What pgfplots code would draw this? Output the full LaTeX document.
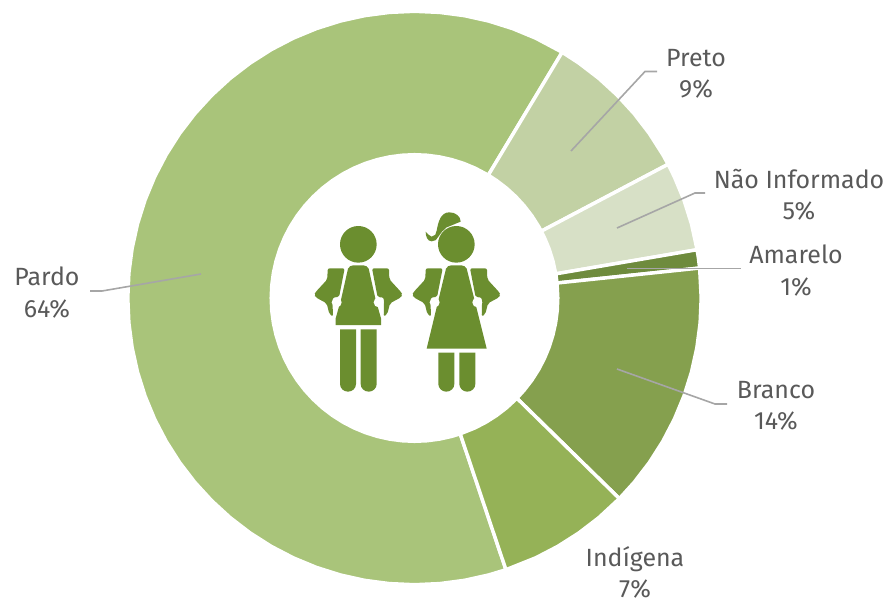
\documentclass[border=0pt]{standalone}
\usepackage{pgfplots}
\pgfplotsset{compat=1.18}
\usepackage{fontspec}
\setmainfont{Fira Sans}
\definecolor{cPardo}{HTML}{A9C47A}
\definecolor{cPreto}{HTML}{C2D1A4}
\definecolor{cNI}{HTML}{D7E0C6}
\definecolor{cAmarelo}{HTML}{6E8B3D}
\definecolor{cBranco}{HTML}{85A04E}
\definecolor{cIndigena}{HTML}{95B257}
\definecolor{cIcon}{HTML}{6B8E2F}
\definecolor{cLead}{HTML}{A6A6A6}
\definecolor{cText}{HTML}{595959}
\begin{document}
\begin{tikzpicture}
\path[use as bounding box] (0,0) rectangle (666.75pt,450.75pt);
\begin{axis}[at={(0,0)},anchor=south west,x=0.75pt,y=0.75pt,
  xmin=-414.5,xmax=474.5,ymin=-303,ymax=298,hide axis,clip=false,
  wedge/.style={data cs=polar,draw=white,line width=2.6pt,line join=miter,mark=none}]
% Pardo 64%
\addplot[wedge,fill=cPardo] coordinates {
(59,286.7)(65,286.7)(70,286.7)(75,286.7)(80,286.7)(85,286.7)(90,286.7)(95,286.7)(100,286.7)(105,286.7)(110,286.7)(115,286.7)(120,286.7)(125,286.7)(130,286.7)(135,286.7)(140,286.7)(145,286.7)(150,286.7)(155,286.7)(160,286.7)(165,286.7)(170,286.7)(175,286.7)(180,286.7)(185,286.7)(190,286.7)(195,286.7)(200,286.7)(205,286.7)(210,286.7)(215,286.7)(220,286.7)(225,286.7)(230,286.7)(235,286.7)(240,286.7)(245,286.7)(250,286.7)(255,286.7)(260,286.7)(265,286.7)(270,286.7)(275,286.7)(280,286.7)(285,286.7)(288.6,286.7)
(288.6,143.3)(285,143.3)(280,143.3)(275,143.3)(270,143.3)(265,143.3)(260,143.3)(255,143.3)(250,143.3)(245,143.3)(240,143.3)(235,143.3)(230,143.3)(225,143.3)(220,143.3)(215,143.3)(210,143.3)(205,143.3)(200,143.3)(195,143.3)(190,143.3)(185,143.3)(180,143.3)(175,143.3)(170,143.3)(165,143.3)(160,143.3)(155,143.3)(150,143.3)(145,143.3)(140,143.3)(135,143.3)(130,143.3)(125,143.3)(120,143.3)(115,143.3)(110,143.3)(105,143.3)(100,143.3)(95,143.3)(90,143.3)(85,143.3)(80,143.3)(75,143.3)(70,143.3)(65,143.3)(59,143.3)
} --cycle;
% Preto 9%
\addplot[wedge,fill=cPreto] coordinates {
(27.8,286.7)(30,286.7)(35,286.7)(40,286.7)(45,286.7)(50,286.7)(55,286.7)(59,286.7)
(59,143.3)(55,143.3)(50,143.3)(45,143.3)(40,143.3)(35,143.3)(30,143.3)(27.8,143.3)
} --cycle;
% Nao Informado 5%
\addplot[wedge,fill=cNI] coordinates {
(9.7,286.7)(15,286.7)(20,286.7)(25,286.7)(27.8,286.7)
(27.8,143.3)(25,143.3)(20,143.3)(15,143.3)(9.7,143.3)
} --cycle;
% Amarelo 1%
\addplot[wedge,fill=cAmarelo] coordinates {
(6,286.7)(8,286.7)(9.7,286.7)(9.7,143.3)(8,143.3)(6,143.3)
} --cycle;
% Branco 14%
\addplot[wedge,fill=cBranco] coordinates {
(-44.4,286.7)(-40,286.7)(-35,286.7)(-30,286.7)(-25,286.7)(-20,286.7)(-15,286.7)(-10,286.7)(-5,286.7)(0,286.7)(6,286.7)
(6,143.3)(0,143.3)(-5,143.3)(-10,143.3)(-15,143.3)(-20,143.3)(-25,143.3)(-30,143.3)(-35,143.3)(-40,143.3)(-44.4,143.3)
} --cycle;
% Indigena 7%
\addplot[wedge,fill=cIndigena] coordinates {
(-71.4,286.7)(-65,286.7)(-60,286.7)(-55,286.7)(-50,286.7)(-44.4,286.7)
(-44.4,143.3)(-50,143.3)(-55,143.3)(-60,143.3)(-65,143.3)(-71.4,143.3)
} --cycle;
\end{axis}
% icon, in units of the 3x zoom
\begin{scope}[shift={(217.5pt,308.25pt)},x=0.25pt,y=-0.25pt]
\def\legs#1#2#3{%
  \fill[cIcon] (#1,#3) -- (#1+48,#3) -- (#1+48,582) arc[start angle=0,end angle=-180,x radius=24,y radius=-23] -- cycle;
  \fill[cIcon] (#2,#3) -- (#2+48,#3) -- (#2+48,582) arc[start angle=0,end angle=-180,x radius=24,y radius=-23] -- cycle;}
\def\arms#1{%
  \fill[cIcon,rounded corners=1.5pt] (#1-93,268) -- (#1-92,235) -- (#1-41,235) -- (#1-58,322) -- (#1-76,322) -- (#1-77,350) -- (#1-76,380) -- (#1-87,372) -- (#1-95,340) -- (#1-128,322) -- (#1-133,314) -- (#1-128,306) -- cycle;
  \fill[cIcon,rounded corners=1.5pt] (#1+93,268) -- (#1+92,235) -- (#1+41,235) -- (#1+58,322) -- (#1+76,322) -- (#1+77,350) -- (#1+76,380) -- (#1+87,372) -- (#1+95,340) -- (#1+128,322) -- (#1+133,314) -- (#1+128,306) -- cycle;}
% boy
\fill[cIcon] (205,163) circle[radius=55];
\arms{205}
\fill[cIcon] (174,236) to[out=60,in=180] (190,226) -- (220,226) to[out=0,in=120] (236,236) -- (256,325) -- (273,385) -- (273,405) -- (137,405) -- (137,385) -- (154,325) -- cycle;
\fill[white] (140,337) circle[radius=15];
\fill[white] (266,337) circle[radius=15];
\legs{150}{212}{418}
% girl
\fill[cIcon] (499,163) circle[radius=55];
\fill[cIcon] (440,122) to[out=80,in=180] (478,67) to[out=0,in=90] (512,95) to[out=200,in=20] (470,112) -- (456,125) to[out=250,in=70] (445,140) to[out=250,in=0] (425,154) to[out=180,in=270] (407,125) to[out=-30,in=180] (425,140) to[out=0,in=270] (440,122) -- cycle;
\arms{499}
\fill[cIcon] (468,236) to[out=60,in=180] (484,226) -- (514,226) to[out=0,in=120] (530,236) -- (590,476) -- (410,476) -- cycle;
\fill[white] (434,337) circle[radius=15];
\fill[white] (562,337) circle[radius=15];
\legs{445}{508}{488}
\end{scope}
% leaders and labels, in pixels of the reference
\begin{scope}[shift={(0,450.75pt)},x=0.75pt,y=-0.75pt]
\tikzset{lead/.style={draw=cLead,line width=1.2pt},lab/.style={text=cText,align=center,font=\fontsize{18.7}{23.5}\selectfont,inner sep=0pt}}
\draw[lead] (571,151)--(645,71.5)--(657,71.5);
\draw[lead] (617,228)--(695,193)--(705,193);
\draw[lead] (627,268.5)--(741,268.5);
\draw[lead] (617,369)--(715,404)--(727,404);
\draw[lead] (201,274)--(102,291)--(90,291);
\node[lab] at (696,73.5) {Preto\\9\%};
\node[lab] at (799,195) {Não Informado\\5\%};
\node[lab] at (796,270.5) {Amarelo\\1\%};
\node[lab] at (776,406) {Branco\\14\%};
\node[lab] at (635,572.5) {Indígena\\7\%};
\node[lab] at (47,292.5) {Pardo\\64\%};
\end{scope}
\end{tikzpicture}
\end{document}
